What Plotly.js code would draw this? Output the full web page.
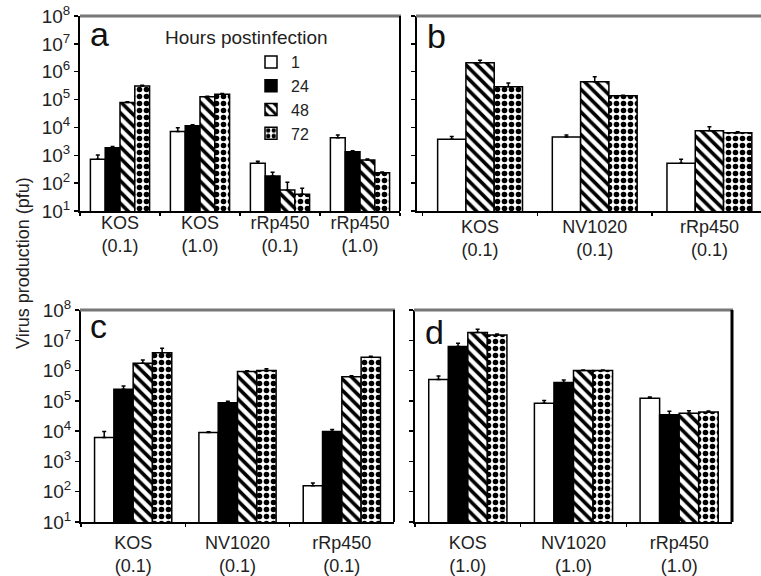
<!DOCTYPE html>
<html><head><meta charset="utf-8">
<script src="https://cdn.plot.ly/plotly-3.0.1.min.js"></script>
<style>html,body{margin:0;padding:0;background:#fff;}</style>
</head><body><div id="chart" style="width:761px;height:576px;"></div>
<script>
// ---------- DATA ----------
const hours = ['1', '24', '48', '72'];
const catsA = ['KOS<br>(0.1)', 'KOS<br>(1.0)', 'rRp450<br>(0.1)', 'rRp450<br>(1.0)'];
const catsB = ['KOS<br>(0.1)', 'NV1020<br>(0.1)', 'rRp450<br>(0.1)'];
const catsC = ['KOS<br>(0.1)', 'NV1020<br>(0.1)', 'rRp450<br>(0.1)'];
const catsD = ['KOS<br>(1.0)', 'NV1020<br>(1.0)', 'rRp450<br>(1.0)'];
const yTickVals = [1e1, 1e2, 1e3, 1e4, 1e5, 1e6, 1e7, 1e8];
const yTickText = ['10<sup>1</sup>', '10<sup>2</sup>', '10<sup>3</sup>', '10<sup>4</sup>', '10<sup>5</sup>', '10<sup>6</sup>', '10<sup>7</sup>', '10<sup>8</sup>'];

// panel a (values, error plus)
const a_h1 = [720, 7100, 515, 4300];
const a_h24 = [1860, 11500, 180, 1350];
const a_h48 = [78000, 127000, 57, 680];
const a_h72 = [310000, 155000, 40, 235];
const a_e1 = [300, 2700, 100, 1100];
const a_e24 = [200, 1000, 65, 100];
const a_e48 = [5000, 5000, 50, 50];
const a_e72 = [20000, 10000, 25, 15];
// panel b (no 24 h)
const b_h1 = [3750, 4500, 515];
const b_h48 = [2100000, 440000, 7600];
const b_h72 = [290000, 138000, 6500];
const b_e1 = [1000, 800, 200];
const b_e48 = [500000, 220000, 3000];
const b_e72 = [100000, 5000, 500];
// panel c
const c_h1 = [6200, 9000, 158];
const c_h24 = [240000, 87000, 9800];
const c_h48 = [1730000, 930000, 630000];
const c_h72 = [3900000, 1000000, 2750000];
const c_e1 = [3600, 500, 36];
const c_e24 = [70000, 10000, 1500];
const c_e48 = [500000, 50000, 50000];
const c_e72 = [1600000, 150000, 200000];
// panel d
const d_h1 = [510000, 83000, 123000];
const d_h24 = [6200000, 400000, 35000];
const d_h48 = [18000000, 1000000, 39000];
const d_h72 = [15000000, 1000000, 43000];
const d_e1 = [150000, 20000, 10000];
const d_e24 = [1800000, 90000, 10000];
const d_e48 = [5000000, 50000, 8000];
const d_e72 = [1000000, 50000, 3000];

// ---------- STYLE ----------
const W = 761, H = 576;
const px = x => x / W;
const py = y => 1 - y / H;
const FONT = 'Liberation Sans, Arial, Helvetica, sans-serif';

const styles = {
  '1': {color: 'white', line: {color: 'black', width: 1.5}},
  '24': {color: 'black', line: {color: 'black', width: 1.5}},
  '48': {color: 'white', line: {color: 'black', width: 1.5},
         pattern: {shape: '\\', fgcolor: 'black', bgcolor: 'white', size: 8, solidity: 0.45}},
  '72': {color: 'white', line: {color: 'black', width: 1.5},
         pattern: {shape: '.', fgcolor: 'black', bgcolor: 'white', size: 7, solidity: 0.5}}
};

function bar(cats, vals, errs, hr, xa, ya, legend) {
  return {
    type: 'bar', x: cats, y: vals, name: hr, xaxis: xa, yaxis: ya,
    showlegend: legend, legendgroup: hr,
    marker: JSON.parse(JSON.stringify(styles[hr])),
    error_y: {type: 'data', symmetric: false, array: errs, arrayminus: errs.map(() => 0),
              color: 'black', thickness: 1.5, width: 2},
    hoverinfo: 'skip'
  };
}

const data = [
  bar(catsA, a_h1, a_e1, '1', 'x', 'y', true),
  bar(catsA, a_h24, a_e24, '24', 'x', 'y', true),
  bar(catsA, a_h48, a_e48, '48', 'x', 'y', true),
  bar(catsA, a_h72, a_e72, '72', 'x', 'y', true),
  bar(catsB, b_h1, b_e1, '1', 'x2', 'y2', false),
  bar(catsB, b_h48, b_e48, '48', 'x2', 'y2', false),
  bar(catsB, b_h72, b_e72, '72', 'x2', 'y2', false),
  bar(catsC, c_h1, c_e1, '1', 'x3', 'y3', false),
  bar(catsC, c_h24, c_e24, '24', 'x3', 'y3', false),
  bar(catsC, c_h48, c_e48, '48', 'x3', 'y3', false),
  bar(catsC, c_h72, c_e72, '72', 'x3', 'y3', false),
  bar(catsD, d_h1, d_e1, '1', 'x4', 'y4', false),
  bar(catsD, d_h24, d_e24, '24', 'x4', 'y4', false),
  bar(catsD, d_h48, d_e48, '48', 'x4', 'y4', false),
  bar(catsD, d_h72, d_e72, '72', 'x4', 'y4', false)
];

function xax(domain, anchor, range, standoff) {
  return {domain: domain, anchor: anchor, type: 'category', range: range,
    showline: true, linecolor: 'black', linewidth: 2, showgrid: false, zeroline: false,
    ticks: 'outside', tickson: 'boundaries', ticklen: 3, tickwidth: 1.5, tickcolor: 'black',
    ticklabelstandoff: standoff,
    tickfont: {family: FONT, size: 18, color: '#222'}, fixedrange: true};
}
function yax(domain, anchor, labels) {
  return {domain: domain, anchor: anchor, type: 'log', range: [1, 8],
    tickvals: yTickVals, ticktext: yTickText, showticklabels: labels,
    showline: true, linecolor: 'black', linewidth: 2, showgrid: false, zeroline: false,
    ticks: 'outside', ticklen: 4, tickwidth: 1.5, tickcolor: 'black', ticklabelstandoff: 0,
    tickfont: {family: FONT, size: 19, color: '#222'}, fixedrange: true};
}

const yTop = [py(211), py(16)];
const yBot = [py(522), py(310)];

const layout = {
  width: W, height: H, margin: {l: 0, r: 0, t: 0, b: 0},
  paper_bgcolor: 'white', plot_bgcolor: 'white',
  barmode: 'group', bargap: 0.26, bargroupgap: 0,
  font: {family: FONT, color: '#222'},
  xaxis: xax([px(80), px(400)], 'y', [-0.5, 3.5], -6),
  yaxis: yax(yTop, 'x', true),
  xaxis2: xax([px(417), 1], 'y2', [-0.55, 2.45], -2),
  yaxis2: yax(yTop, 'x2', false),
  xaxis3: xax([px(81), px(394)], 'y3', [-0.5, 2.5], 3),
  yaxis3: yax(yBot, 'x3', true),
  xaxis4: xax([px(415), px(732)], 'y4', [-0.5, 2.5], 3),
  yaxis4: yax(yBot, 'x4', false),
  legend: {x: px(251), y: py(45), xanchor: 'left', yanchor: 'top',
    font: {family: FONT, size: 16, color: '#222'}, bgcolor: 'rgba(0,0,0,0)',
    traceorder: 'normal', tracegroupgap: 0},
  shapes: [
    {type: 'line', xref: 'paper', yref: 'paper', x0: px(80), x1: px(401), y0: py(16), y1: py(16), line: {color: '#777', width: 3}},
    {type: 'line', xref: 'paper', yref: 'paper', x0: px(416), x1: 1, y0: py(16), y1: py(16), line: {color: '#777', width: 3}},
    {type: 'line', xref: 'paper', yref: 'paper', x0: px(80), x1: px(395), y0: py(310), y1: py(310), line: {color: '#777', width: 3}},
    {type: 'line', xref: 'paper', yref: 'paper', x0: px(414), x1: px(733), y0: py(310), y1: py(310), line: {color: '#777', width: 3}},
    {type: 'line', xref: 'paper', yref: 'paper', x0: px(400), x1: px(400), y0: py(211), y1: py(16), line: {color: 'black', width: 2}},
    {type: 'line', xref: 'paper', yref: 'paper', x0: px(394), x1: px(394), y0: py(522), y1: py(310), line: {color: 'black', width: 2}},
    {type: 'line', xref: 'paper', yref: 'paper', x0: px(732), x1: px(732), y0: py(522), y1: py(310), line: {color: 'black', width: 3}}
  ],
  annotations: [
    {text: 'a', xref: 'paper', yref: 'paper', x: px(88), y: py(34), xanchor: 'left', yanchor: 'middle', showarrow: false, font: {family: FONT, size: 34, color: '#111'}},
    {text: 'b', xref: 'paper', yref: 'paper', x: px(425), y: py(36), xanchor: 'left', yanchor: 'middle', showarrow: false, font: {family: FONT, size: 34, color: '#111'}},
    {text: 'c', xref: 'paper', yref: 'paper', x: px(88), y: py(326), xanchor: 'left', yanchor: 'middle', showarrow: false, font: {family: FONT, size: 34, color: '#111'}},
    {text: 'd', xref: 'paper', yref: 'paper', x: px(423), y: py(332), xanchor: 'left', yanchor: 'middle', showarrow: false, font: {family: FONT, size: 34, color: '#111'}},
    {text: 'Hours postinfection', xref: 'paper', yref: 'paper', x: px(163), y: py(37), xanchor: 'left', yanchor: 'middle', showarrow: false, font: {family: FONT, size: 19, color: '#222'}},
    {text: 'Virus production (pfu)', xref: 'paper', yref: 'paper', x: px(23), y: py(263), xanchor: 'center', yanchor: 'middle', textangle: -90, showarrow: false, font: {family: FONT, size: 18, color: '#222'}}
  ]
};

Plotly.newPlot('chart', data, layout, {displayModeBar: false, staticPlot: true});
</script>
</body></html>
